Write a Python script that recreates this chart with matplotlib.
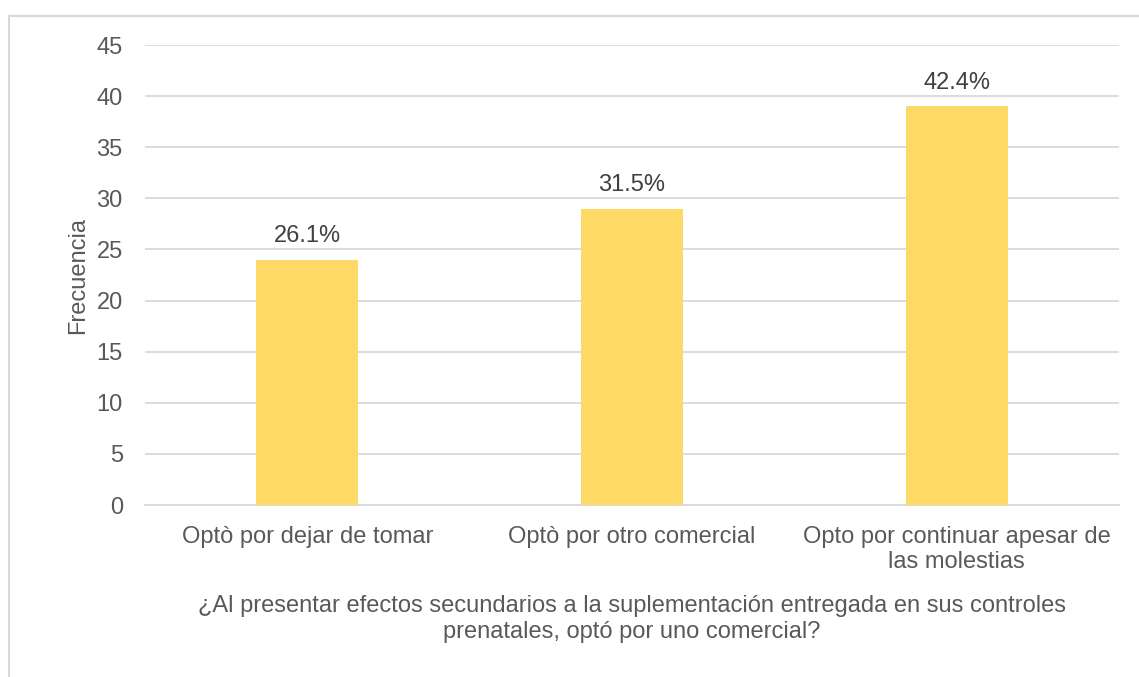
import matplotlib
matplotlib.use("Agg")
import matplotlib.pyplot as plt
from matplotlib.patches import Rectangle

categories = ["Optò por dejar de tomar", "Optò por otro comercial",
              "Opto por continuar apesar de\nlas molestias"]
values = [24, 29, 39]
pct_labels = ["26.1%", "31.5%", "42.4%"]
yticks = [0, 5, 10, 15, 20, 25, 30, 35, 40, 45]

plt.rcParams['font.family'] = ['Liberation Sans', 'DejaVu Sans']
TXT = '#595959'
GRID = '#D9D9D9'
FS = 17

fig = plt.figure(figsize=(11.39, 6.77), dpi=100)
fig.patches.append(Rectangle((9/1139, -0.05), 1.2, 1 - 16/677 + 0.05,
                             transform=fig.transFigure, fill=False,
                             edgecolor=GRID, linewidth=1.5))
ax = fig.add_axes([145/1139, 1 - 505/677, (1119 - 145)/1139, (505 - 45)/677])

x = range(len(categories))
bars = ax.bar(x, values, width=0.315, color='#FFD966', zorder=3)
for xi, v, lab in zip(x, values, pct_labels):
    ax.annotate(lab, (xi, v), xytext=(0, 9), textcoords='offset points',
                ha='center', va='bottom', fontsize=FS, color='#404040')

ax.set_xlim(-0.5, 2.5)
ax.set_ylim(0, 45)
ax.set_yticks(yticks)
ax.yaxis.grid(True, color=GRID, linewidth=1.3, zorder=0)
ax.set_axisbelow(True)
for s in ['top', 'right', 'left']:
    ax.spines[s].set_visible(False)
ax.spines['bottom'].set_color(GRID)
ax.spines['bottom'].set_linewidth(1.3)
ax.tick_params(axis='both', length=0, labelsize=FS, labelcolor=TXT)
ax.tick_params(axis='y', pad=16)
ax.tick_params(axis='x', pad=15)
ax.set_xticks(list(x))
ax.set_xticklabels(categories, linespacing=1.2)
ax.set_ylabel('Frecuencia', fontsize=FS, color=TXT, labelpad=5)
ax.set_xlabel('¿Al presentar efectos secundarios a la suplementación entregada en sus controles\nprenatales, optó por uno comercial?',
              fontsize=FS, color=TXT, labelpad=16, linespacing=1.2)

fig.savefig('out.png', dpi=100)
